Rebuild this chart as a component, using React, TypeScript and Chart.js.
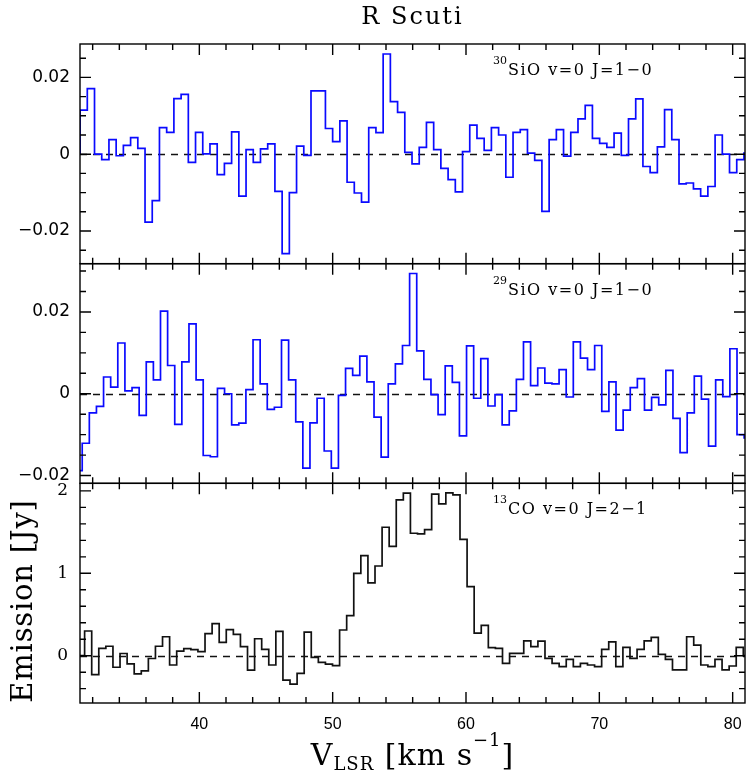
import { useEffect, useRef } from 'react';
import { Chart, registerables } from 'chart.js';

Chart.register(...registerables);

// ---------------- text ----------------
const titleText = 'R Scuti';
const yAxisTitle = 'Emission [Jy]';
const xTitleMain = 'V';
const xTitleSub = 'LSR';
const xTitleMid = ' [km s';
const xTitleSup = '−1';
const xTitleEnd = ']';

const panelIsotopes = ['30', '29', '13'];
const panelLines = ['SiO v=0 J=1−0', 'SiO v=0 J=1−0', 'CO v=0 J=2−1'];

// ---------------- axes ----------------
const velocityMin = 31.05;
const velocityMax = 80.925;
const velocityMinorStep = 2;
const velocityMajorStep = 10;

const sio30Range = [-0.0285, 0.0287];
const sio29Range = [-0.0219, 0.0318];
const co13Range = [-0.574, 2.092];
const sioMinorStep = 0.005;
const sioMajorStep = 0.02;
const coMinorStep = 0.2;
const coMajorStep = 1;

// ---------------- spectra (Jy per channel) ----------------
// 30SiO v=0 J=1-0
const sio30FirstEdge = 30.515; // km/s, left edge of first channel
const sio30ChannelWidth = 0.5412;
const sio30Flux = [
  0, 0.0115, 0.0171, 0.0, -0.0014, 0.0038, -0.0004, 0.0023, 0.0043, 0.0015,
  -0.0177, -0.0121, 0.0069, 0.0057, 0.0145, 0.0156, -0.0021, 0.0057, 0.0001, 0.0027,
  -0.0053, -0.0024, 0.0058, -0.0109, 0.0012, -0.0021, 0.0014, 0.0027, -0.0097, -0.0259,
  -0.0100, 0.0021, -0.0003, 0.0165, 0.0165, 0.0067, 0.0033, 0.0087, -0.0073, -0.0101,
  -0.0125, 0.0069, 0.0056, 0.0261, 0.0137, 0.0109, 0.0005, -0.0025, 0.0018, 0.0083,
  0.0012, -0.0037, -0.0066, -0.0098, 0.0007, 0.0076, 0.0041, 0.0010, 0.0069, 0.0050,
  -0.0060, 0.0057, 0.0064, 0.0003, -0.0016, -0.0149, 0.0038, 0.0064, -0.0005, 0.0057,
  0.0092, 0.0127, 0.0041, 0.0028, 0.0018, 0.0055, -0.0003, 0.0092, 0.0144, -0.0032,
  -0.0048, 0.0019, 0.0116, 0.0038, -0.0077, -0.0075, -0.0090, -0.0109, -0.0084, 0.0050,
  0.0, -0.0048, -0.0014, 0.0003,
];

// 29SiO v=0 J=1-0
const sio29FirstEdge = 30.682;
const sio29ChannelWidth = 0.5338;
const sio29Flux = [
  -0.0188, -0.0121, -0.0047, -0.0031, 0.0041, 0.0016, 0.0124, 0.0007, 0.0015, -0.0053,
  0.0078, 0.0034, 0.0202, 0.0069, -0.0075, 0.0078, 0.0171, 0.0034, -0.0151, -0.0154,
  0.0013, 0.0, -0.0076, -0.0072, 0.0010, 0.0132, 0.0024, -0.0038, -0.0033, 0.0131,
  0.0034, -0.0069, -0.0182, -0.0071, -0.0011, -0.0140, -0.0182, -0.0004, 0.0062, 0.0045,
  0.0092, 0.0029, -0.0057, -0.0155, 0.0024, 0.0073, 0.0118, 0.0294, 0.0105, 0.0035,
  -0.0002, -0.0051, 0.0068, 0.0028, -0.0103, 0.0117, -0.0011, 0.0086, -0.0030, -0.0002,
  -0.0076, -0.0042, 0.0035, 0.0127, 0.0020, 0.0063, 0.0026, 0.0024, 0.0059, -0.0008,
  0.0127, 0.0087, 0.0059, 0.0118, -0.0043, 0.0029, -0.0089, -0.0040, 0.0015, 0.0037,
  -0.0040, -0.0009, -0.0027, 0.0057, -0.0060, -0.0144, -0.0047, 0.0043, -0.0013, -0.0128,
  0.0034, -0.0007, 0.0110, -0.0100, -0.0108,
];

// 13CO v=0 J=2-1
const co13FirstEdge = 30.334;
const co13ChannelWidth = 0.5312;
const co13Flux = [
  0.2, 0.0, 0.30, -0.23, 0.09, 0.115, -0.14, 0.027, -0.10, -0.22,
  -0.185, -0.034, 0.115, 0.23, -0.113, 0.055, 0.085, 0.073, 0.049, 0.267,
  0.389, 0.162, 0.316, 0.259, 0.109, -0.174, 0.206, 0.077, -0.113, 0.296,
  -0.296, -0.344, -0.215, 0.287, -0.020, -0.081, -0.101, -0.121, 0.312, 0.486,
  1.000, 1.215, 0.883, 1.089, 1.559, 1.328, 1.891, 1.972, 1.486, 1.478,
  1.530, 1.960, 1.842, 1.976, 1.951, 1.413, 0.838, 0.275, 0.368, 0.097,
  0.089, -0.092, 0.029, 0.029, 0.181, 0.109, 0.177, -0.032, -0.092, -0.133,
  -0.044, -0.133, -0.092, -0.113, -0.133, 0.077, 0.169, -0.133, 0.101, -0.032,
  0.077, 0.181, 0.222, 0.016, -0.044, -0.173, -0.173, 0.230, 0.129, -0.113,
  -0.133, -0.044, -0.173, -0.125, 0.10, 0.0,
];

// ---------------- helpers ----------------
function channelPoints(firstEdge: number, width: number, flux: number[]) {
  return flux.map((f, i) => ({ x: firstEdge + (i + 0.5) * width, y: f }));
}

function isMultiple(v: number, step: number) {
  const r = v / step;
  return Math.abs(r - Math.round(r)) < 1e-6;
}

function sioLabel(v: number) {
  if (!isMultiple(v, sioMajorStep)) return '';
  const r = Math.round(v / sioMajorStep) * sioMajorStep;
  if (Math.abs(r) < 1e-9) return '0';
  return (r < 0 ? '\u2212' : '') + Math.abs(r).toFixed(2);
}

function coLabel(v: number) {
  if (!isMultiple(v, coMajorStep)) return '';
  return String(Math.round(v));
}

const panelIds = ['yTop', 'yMid', 'yBot'];
const panelSteps = [
  [sioMinorStep, sioMajorStep],
  [sioMinorStep, sioMajorStep],
  [coMinorStep, coMajorStep],
];

const framePlugin = {
  id: 'spectraFrames',
  beforeDatasetsDraw(chart: any) {
    const ctx = chart.ctx;
    const area = chart.chartArea;
    ctx.save();
    ctx.strokeStyle = '#111';
    ctx.lineWidth = 1.3;
    ctx.setLineDash([7, 6]);
    for (const id of panelIds) {
      const s = chart.scales[id];
      const y0 = Math.round(s.getPixelForValue(0)) + 0.5;
      ctx.beginPath();
      ctx.moveTo(area.left, y0);
      ctx.lineTo(area.right, y0);
      ctx.stroke();
    }
    ctx.restore();
  },
  afterDatasetsDraw(chart: any) {
    const ctx = chart.ctx;
    const area = chart.chartArea;
    const xs = chart.scales.x;
    ctx.save();
    ctx.strokeStyle = '#000';
    ctx.lineWidth = 1.4;
    ctx.setLineDash([]);
    const minorLen = 6;
    const majorLen = 11;
    panelIds.forEach((id, p) => {
      const s = chart.scales[id];
      const top = s.top;
      const bottom = s.bottom;
      ctx.strokeRect(area.left, top, area.right - area.left, bottom - top);
      const [minor, major] = panelSteps[p];
      ctx.beginPath();
      for (const t of s.ticks) {
        if (!isMultiple(t.value, minor)) continue;
        const len = isMultiple(t.value, major) ? majorLen : minorLen;
        const y = s.getPixelForValue(t.value);
        ctx.moveTo(area.left, y);
        ctx.lineTo(area.left + len, y);
        ctx.moveTo(area.right, y);
        ctx.lineTo(area.right - len, y);
      }
      for (const t of xs.ticks) {
        if (!isMultiple(t.value, velocityMinorStep)) continue;
        const len = isMultiple(t.value, velocityMajorStep) ? majorLen : minorLen;
        const x = xs.getPixelForValue(t.value);
        ctx.moveTo(x, top);
        ctx.lineTo(x, top + len);
        ctx.moveTo(x, bottom);
        ctx.lineTo(x, bottom - len);
      }
      ctx.stroke();

      // line identification
      ctx.fillStyle = '#000';
      ctx.textAlign = 'left';
      ctx.textBaseline = 'alphabetic';
      const lx = area.right - 252;
      ctx.font = '11px "DejaVu Serif"';
      (ctx as any).letterSpacing = '0px';
      ctx.fillText(panelIsotopes[p], lx, top + 20);
      const sw = ctx.measureText(panelIsotopes[p]).width;
      ctx.font = '16px "DejaVu Serif"';
      (ctx as any).letterSpacing = '1.5px';
      ctx.fillText(panelLines[p], lx + sw + 1, top + 31);
      (ctx as any).letterSpacing = '0px';
    });

    // title
    const cx = (area.left + area.right) / 2;
    ctx.fillStyle = '#000';
    ctx.textAlign = 'center';
    ctx.textBaseline = 'alphabetic';
    ctx.font = '24px "DejaVu Serif"';
    (ctx as any).letterSpacing = '2px';
    ctx.fillText(titleText, cx, 24);

    // y title
    ctx.save();
    ctx.translate(31.5, 601);
    ctx.rotate(-Math.PI / 2);
    ctx.font = '29px "DejaVu Serif"';
    (ctx as any).letterSpacing = '0.8px';
    ctx.fillText(yAxisTitle, 0, 0);
    ctx.restore();

    // x title
    const bigFont = '30px "DejaVu Serif"';
    const smallFont = '18px "DejaVu Serif"';
    ctx.textAlign = 'left';
    (ctx as any).letterSpacing = '1px';
    ctx.font = bigFont;
    const w1 = ctx.measureText(xTitleMain).width;
    const w3 = ctx.measureText(xTitleMid).width;
    const w5 = ctx.measureText(xTitleEnd).width;
    ctx.font = smallFont;
    const w2 = ctx.measureText(xTitleSub).width;
    const w4 = ctx.measureText(xTitleSup).width;
    const total = w1 + w2 + w3 + w4 + w5;
    let x = cx - total / 2;
    const base = 765;
    ctx.font = bigFont;
    ctx.fillText(xTitleMain, x, base);
    x += w1;
    ctx.font = smallFont;
    ctx.fillText(xTitleSub, x, base + 5);
    x += w2;
    ctx.font = bigFont;
    ctx.fillText(xTitleMid, x, base);
    x += w3;
    ctx.font = smallFont;
    ctx.fillText(xTitleSup, x, base - 19);
    x += w4;
    ctx.font = bigFont;
    ctx.fillText(xTitleEnd, x, base);
    (ctx as any).letterSpacing = '0px';
    ctx.restore();
  },
};

function yScale(range: number[], step: number, weight: number, labeler: (v: number) => string, font: any, padding: number) {
  return {
    type: 'linear',
    position: 'left',
    stack: 'panels',
    stackWeight: 1,
    weight,
    min: range[0],
    max: range[1],
    afterFit: (s: any) => {
      s.width = 80;
      s.paddingTop = 0;
      s.paddingBottom = 0;
    },
    ticks: {
      stepSize: step,
      includeBounds: false,
      autoSkip: false,
      padding,
      color: '#000',
      font,
      callback: (v: any) => labeler(Number(v)),
    },
    grid: { display: false, drawTicks: false },
    border: { display: false },
  };
}

export default function App() {
  const ref = useRef<HTMLCanvasElement>(null);
  useEffect(() => {
    const canvas = ref.current;
    if (!canvas) return;
    const chart = new Chart(canvas, {
      type: 'line',
      data: {
        datasets: [
          {
            data: channelPoints(sio30FirstEdge, sio30ChannelWidth, sio30Flux),
            xAxisID: 'x',
            yAxisID: 'yTop',
            borderColor: '#0a0aff',
            borderWidth: 1.7,
            pointRadius: 0,
            stepped: 'middle',
            fill: false,
          },
          {
            data: channelPoints(sio29FirstEdge, sio29ChannelWidth, sio29Flux),
            xAxisID: 'x',
            yAxisID: 'yMid',
            borderColor: '#0a0aff',
            borderWidth: 1.7,
            pointRadius: 0,
            stepped: 'middle',
            fill: false,
          },
          {
            data: channelPoints(co13FirstEdge, co13ChannelWidth, co13Flux),
            xAxisID: 'x',
            yAxisID: 'yBot',
            borderColor: '#111',
            borderWidth: 1.7,
            pointRadius: 0,
            stepped: 'middle',
            fill: false,
          },
        ],
      } as any,
      options: {
        responsive: false,
        devicePixelRatio: 1,
        animation: false,
        events: [],
        layout: { padding: { top: 44, right: 2, left: 0, bottom: 0 } },
        plugins: { legend: { display: false }, tooltip: { enabled: false }, title: { display: false } },
        scales: {
          x: {
            type: 'linear',
            position: 'bottom',
            min: velocityMin,
            max: velocityMax,
            afterFit: (s: any) => {
              s.height = 72;
              s.paddingLeft = 0;
              s.paddingRight = 0;
            },
            ticks: {
              stepSize: velocityMinorStep,
              includeBounds: false,
              autoSkip: false,
              maxRotation: 0,
              padding: 12,
              color: '#000',
              font: { family: 'Liberation Sans', size: 16 },
              callback: (v: any) => (isMultiple(Number(v), velocityMajorStep) ? String(Math.round(Number(v))) : ''),
            },
            grid: { display: false, drawTicks: false },
            border: { display: false },
          },
          yBot: yScale(co13Range, coMinorStep, 1, coLabel, { family: 'DejaVu Serif', size: 17 }, 12),
          yMid: yScale(sio29Range, sioMinorStep, 2, sioLabel, { family: 'DejaVu Sans', size: 17 }, 10),
          yTop: yScale(sio30Range, sioMinorStep, 3, sioLabel, { family: 'DejaVu Sans', size: 17 }, 10),
        } as any,
      },
      plugins: [framePlugin],
    });
    return () => chart.destroy();
  }, []);
  return (
    <div style={{ position: 'absolute', left: 0, top: 0, width: 747, height: 775, background: '#fff' }}>
      <canvas ref={ref} width={747} height={775} style={{ display: 'block', width: 747, height: 775 }} />
    </div>
  );
}
